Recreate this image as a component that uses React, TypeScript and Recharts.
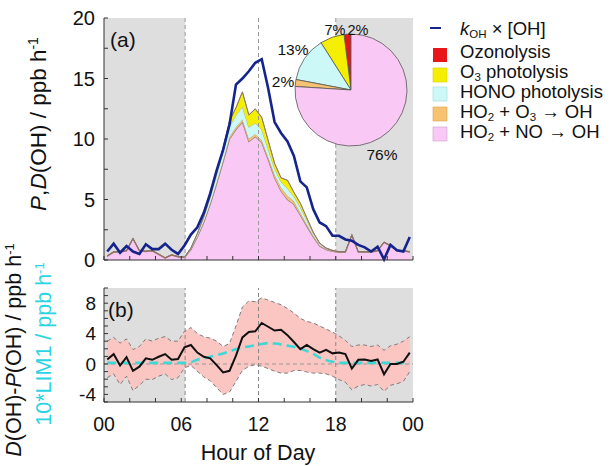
import React from 'react';
import { ComposedChart, Area, Line, XAxis, YAxis, ReferenceArea, ReferenceLine, PieChart, Pie, Cell } from 'recharts';

const FONT = '"Liberation Sans", Arial, sans-serif';

// half-hour bins, hour of day
const hours = [
  0.25, 0.75, 1.25, 1.75, 2.25, 2.75, 3.25, 3.75, 4.25, 4.75, 5.25, 5.75,
  6.25, 6.75, 7.25, 7.75, 8.25, 8.75, 9.25, 9.75, 10.25, 10.75, 11.25, 11.75,
  12.25, 12.75, 13.25, 13.75, 14.25, 14.75, 15.25, 15.75, 16.25, 16.75, 17.25, 17.75,
  18.25, 18.75, 19.25, 19.75, 20.25, 20.75, 21.25, 21.75, 22.25, 22.75, 23.25, 23.75,
];

// (a) kOH x [OH] (destruction)
const kOH = [
  0.7, 1.35, 0.6, 1.15, 0.7, 0.5, 1.3, 0.9, 0.9, 1.35, 0.85, 0.5,
  1.2, 2.1, 2.7, 3.9, 5.5, 7.4, 9.1, 11.2, 14.5, 15.0, 15.6, 16.3,
  16.6, 14.2, 11.4, 10.5, 9.8, 8.6, 6.5, 6.0, 4.2, 3.1, 2.8, 2.0,
  2.0, 1.7, 1.6, 1.25, 1.05, 0.7, 1.1, 0.05, 1.25, 0.8, 0.7, 1.9,
];

// (a) production terms, stacked bottom to top
const pHO2NO = [
  0.3, 0.65, 0.65, 0.75, 1.75, 0.75, 0.7, 0.75, 0.45, 0.15, 0.4, 0.25,
  0.2, 0.85, 1.9, 3.1, 4.6, 6.3, 8.1, 10.0, 10.8, 11.4, 9.8, 10.2,
  9.7, 8.3, 6.8, 5.7, 5.0, 4.6, 3.7, 2.8, 1.9, 1.15, 0.85, 0.7,
  0.65, 0.65, 2.05, 0.65, 0.65, 0.65, 0.75, 1.45, 1.15, 0.75, 0.75, 0.65,
];
const pHO2O3 = [
  0.01, 0.01, 0.01, 0.01, 0.01, 0.01, 0.01, 0.01, 0.01, 0.01, 0.01, 0.01,
  0.0, 0.03, 0.05, 0.08, 0.1, 0.12, 0.15, 0.18, 0.2, 0.22, 0.22, 0.22,
  0.22, 0.22, 0.25, 0.3, 0.3, 0.25, 0.2, 0.15, 0.1, 0.07, 0.05, 0.03,
  0.01, 0.01, 0.01, 0.01, 0.01, 0.01, 0.01, 0.01, 0.01, 0.01, 0.01, 0.01,
];
const pHONO = [
  0.01, 0.01, 0.01, 0.01, 0.01, 0.01, 0.01, 0.01, 0.01, 0.01, 0.01, 0.01,
  0.03, 0.1, 0.2, 0.35, 0.45, 0.6, 0.7, 0.85, 0.95, 1.05, 0.95, 0.9,
  0.85, 0.65, 0.5, 0.45, 0.6, 0.4, 0.45, 0.33, 0.2, 0.13, 0.07, 0.04,
  0.01, 0.01, 0.01, 0.01, 0.01, 0.01, 0.01, 0.01, 0.01, 0.01, 0.01, 0.01,
];
const pO3phot = [
  0, 0, 0, 0, 0, 0, 0, 0, 0, 0, 0, 0,
  0, 0, 0.03, 0.05, 0.13, 0.25, 0.32, 0.44, 0.62, 1.2, 1.0, 1.15,
  1.0, 0.7, 0.42, 0.33, 0.68, 0.33, 0.33, 0.2, 0.08, 0.03, 0.01, 0,
  0, 0, 0, 0, 0, 0, 0, 0, 0, 0, 0, 0,
];
const pOzon = [
  0.03, 0.03, 0.03, 0.03, 0.03, 0.03, 0.03, 0.03, 0.03, 0.03, 0.03, 0.03,
  0.02, 0.02, 0.02, 0.02, 0.02, 0.03, 0.03, 0.03, 0.03, 0.03, 0.03, 0.03,
  0.03, 0.03, 0.03, 0.02, 0.02, 0.02, 0.02, 0.02, 0.02, 0.02, 0.02, 0.03,
  0.03, 0.03, 0.03, 0.03, 0.03, 0.03, 0.03, 0.03, 0.03, 0.03, 0.03, 0.03,
];

// (b) D(OH)-P(OH), its uncertainty band, and 10*LIM1
const dMinusP = [
  0.6, 1.3, -0.2, 0.9, -0.9, -0.35, 0.75, 0.55, 0.95, 1.3, 0.55, 0.65,
  2.2, 2.5, 1.5, 0.95, 0.75, -0.15, -1.1, -0.9, 1.1, 3.5, 4.2, 4.3,
  5.4, 4.9, 4.4, 4.5, 3.8, 2.9, 1.95, 2.5, 1.95, 1.5, 1.85, 1.4,
  1.5, 1.3, -0.6, 0.55, 0.6, 0.4, 0.6, -1.35, 0.0, 0.0, 0.3, 1.5,
];
const dpUpper = [
  3.0, 3.5, 2.75, 3.3, 1.9, 2.3, 3.3, 3.0, 3.4, 3.6, 3.0, 3.0,
  4.3, 4.8, 4.0, 3.6, 3.4, 3.0, 2.3, 2.7, 5.0, 7.5, 8.3, 8.2,
  8.7, 8.4, 8.1, 7.8, 7.3, 6.7, 6.0, 5.6, 5.4, 5.0, 4.6, 4.2,
  3.7, 3.1, 2.3, 2.5, 2.5, 2.3, 2.5, 1.8, 2.4, 2.6, 3.0, 3.6,
];
const dpLower = [
  -1.8, -1.3, -2.7, -1.6, -3.5, -2.8, -2.0, -2.05, -1.6, -1.3, -2.05, -1.8,
  -0.5, -0.2, -0.95, -1.7, -2.2, -3.1, -4.0, -3.7, -2.3, -0.85, -0.3, -0.1,
  -0.3, -0.6, -0.95, -1.2, -1.2, -0.85, -0.85, -1.05, -1.2, -1.2, -1.3, -1.6,
  -2.05, -2.4, -3.4, -2.9, -2.7, -2.9, -2.7, -3.6, -2.8, -2.6, -2.3, -1.0,
];
const lim1x10 = [
  0.15, 0.15, 0.15, 0.15, 0.15, 0.15, 0.15, 0.15, 0.15, 0.15, 0.15, 0.15,
  0.15, 0.25, 0.57, 0.73, 0.95, 1.17, 1.38, 1.66, 1.93, 2.15, 2.31, 2.47,
  2.64, 2.75, 2.69, 2.58, 2.42, 2.26, 2.04, 1.71, 1.33, 0.84, 0.51, 0.29,
  0.15, 0.15, 0.15, 0.15, 0.15, 0.15, 0.15, 0.15, 0.15, 0.15, 0.15, 0.15,
];

// inset pie: share of P(OH)
const pieNames = ['Ozonolysis', 'O3 photolysis', 'HONO photolysis', 'HO2 + O3', 'HO2 + NO'];
const pieValues = [2, 7, 13, 2, 76];
const pieColors = ['#e8151b', '#f4ef00', '#cdf8f8', '#f7c272', '#f9c8f5'];

const hourTicks = [0, 2, 4, 6, 8, 10, 12, 14, 16, 18, 20, 22, 24];
const hourLabels: Record<number, string> = { 0: '00', 6: '06', 12: '12', 18: '18', 24: '00' };
const ticksA = [0, 2.5, 5, 7.5, 10, 12.5, 15, 17.5, 20];
const ticksB = [-5, -4, -3, -2, -1, 0, 1, 2, 3, 4, 5, 6, 7, 8, 9, 10];
const labelsB = [-4, 0, 4, 8];

const sunrise = 6.3;
const sunset = 18;
const NIGHT = '#dedede';
const AXIS = '#333';
const EDGE = '#8b7b6e';
const LEG = 18.5;
const SUB = 11.5;

const rowsA = hours.map((t, i) => ({
  t,
  kOH: kOH[i],
  ho2no: pHO2NO[i],
  ho2o3: pHO2O3[i],
  hono: pHONO[i],
  o3: pO3phot[i],
  ozon: pOzon[i],
}));

const rowsB = hours.map((t, i) => ({
  t,
  dp: dMinusP[i],
  upper: dpUpper[i],
  lower: dpLower[i],
  band: [dpLower[i], dpUpper[i]],
  lim: lim1x10[i],
}));

const pieData = pieNames.map((name, i) => ({ name, value: pieValues[i] }));

const tickFont = { fill: '#111', fontFamily: FONT };

export default function App() {
  return (
    <div style={{ position: 'absolute', left: 0, top: 0, width: 616, height: 466, background: '#fff', fontFamily: FONT }}>
      {/* Panel (a): production vs destruction */}
      <div style={{ position: 'absolute', left: 0, top: 0 }}>
        <ComposedChart width={440} height={275} data={rowsA} margin={{ top: 18, right: 27, bottom: 0, left: 0 }}>
          <ReferenceArea x1={0} x2={sunrise} fill={NIGHT} fillOpacity={1} stroke="none" />
          <ReferenceArea x1={sunset} x2={24} fill={NIGHT} fillOpacity={1} stroke="none" />
          <Area type="linear" dataKey="ho2no" stackId="p" fill="#f9c8f5" fillOpacity={1} stroke={EDGE} strokeWidth={1.2} isAnimationActive={false} />
          <Area type="linear" dataKey="ho2o3" stackId="p" fill="#f7c272" fillOpacity={1} stroke={EDGE} strokeWidth={0.6} isAnimationActive={false} />
          <Area type="linear" dataKey="hono" stackId="p" fill="#cdf8f8" fillOpacity={1} stroke={EDGE} strokeWidth={0.6} isAnimationActive={false} />
          <Area type="linear" dataKey="o3" stackId="p" fill="#f4ef00" fillOpacity={1} stroke={EDGE} strokeWidth={0.6} isAnimationActive={false} />
          <Area type="linear" dataKey="ozon" stackId="p" fill="#e8151b" fillOpacity={1} stroke={EDGE} strokeWidth={1} isAnimationActive={false} />
          <ReferenceLine x={sunrise} stroke="#9a9a9a" strokeDasharray="4 3" />
          <ReferenceLine x={12} stroke="#9a9a9a" strokeDasharray="4 3" />
          <ReferenceLine x={sunset} stroke="#9a9a9a" strokeDasharray="4 3" />
          <Line type="linear" dataKey="kOH" stroke="#14248c" strokeWidth={2.6} dot={false} isAnimationActive={false} />
          <XAxis dataKey="t" type="number" domain={[0, 24]} ticks={hourTicks} interval={0} tickFormatter={() => ''} tickSize={-4} height={15} stroke={AXIS} />
          <XAxis xAxisId="top" orientation="top" type="number" domain={[0, 24]} ticks={hourTicks} interval={0} tick={false} tickSize={-4} height={0} stroke={AXIS} />
          <YAxis type="number" domain={[0, 20]} ticks={ticksA} interval={0} tickFormatter={(v) => (v % 5 === 0 ? String(v) : '')} tickSize={-4} tickMargin={13} width={104} stroke={AXIS} tick={{ ...tickFont, fontSize: 20 }} />
          <YAxis yAxisId="right" orientation="right" type="number" domain={[0, 20]} ticks={ticksA} interval={0} tick={false} tickSize={-4} width={0} stroke={AXIS} />
        </ComposedChart>
      </div>

      {/* Panel (b): D(OH) - P(OH) */}
      <div style={{ position: 'absolute', left: 0, top: 270 }}>
        <ComposedChart width={440} height={200} data={rowsB} margin={{ top: 18, right: 27, bottom: 0, left: 0 }}>
          <ReferenceArea x1={0} x2={sunrise} fill={NIGHT} fillOpacity={1} stroke="none" />
          <ReferenceArea x1={sunset} x2={24} fill={NIGHT} fillOpacity={1} stroke="none" />
          <Area type="linear" dataKey="band" fill="#fbc5c2" fillOpacity={1} stroke="none" isAnimationActive={false} />
          <ReferenceLine y={0} stroke="#999" strokeDasharray="4 3" />
          <ReferenceLine x={sunrise} stroke="#888" strokeDasharray="4 3" />
          <ReferenceLine x={12} stroke="#888" strokeDasharray="4 3" />
          <ReferenceLine x={sunset} stroke="#888" strokeDasharray="4 3" />
          <Line type="linear" dataKey="upper" stroke="#7d7d7d" strokeWidth={1} strokeDasharray="4 3" dot={false} isAnimationActive={false} />
          <Line type="linear" dataKey="lower" stroke="#7d7d7d" strokeWidth={1} strokeDasharray="4 3" dot={false} isAnimationActive={false} />
          <Line type="monotone" dataKey="lim" stroke="#3ed8d6" strokeWidth={2.6} strokeDasharray="9 5" dot={false} isAnimationActive={false} />
          <Line type="linear" dataKey="dp" stroke="#111" strokeWidth={2} dot={false} isAnimationActive={false} />
          <XAxis dataKey="t" type="number" domain={[0, 24]} ticks={hourTicks} interval={0} tickFormatter={(v) => hourLabels[v] ?? ''} tickSize={-4} tickMargin={19} height={68} stroke={AXIS} tick={{ ...tickFont, fontSize: 19.5 }} />
          <XAxis xAxisId="top" orientation="top" type="number" domain={[0, 24]} ticks={hourTicks} interval={0} tick={false} tickSize={-4} height={0} stroke={AXIS} />
          <YAxis type="number" domain={[-5, 10]} ticks={ticksB} interval={0} tickFormatter={(v) => (labelsB.includes(Number(v)) ? String(v) : '')} tickSize={-4} tickMargin={12} width={104} stroke={AXIS} tick={{ ...tickFont, fontSize: 19 }} />
          <YAxis yAxisId="right" orientation="right" type="number" domain={[-5, 10]} ticks={ticksB} interval={0} tick={false} tickSize={-4} width={0} stroke={AXIS} />
        </ComposedChart>
      </div>

      {/* inset pie */}
      <div style={{ position: 'absolute', left: 286, top: 25 }}>
        <PieChart width={130} height={130} margin={{ top: 0, right: 0, bottom: 0, left: 0 }}>
          <Pie data={pieData} dataKey="value" nameKey="name" cx="50%" cy="50%" outerRadius={56} startAngle={90} endAngle={450} stroke="#555" strokeWidth={0.8} isAnimationActive={false}>
            {pieData.map((d, i) => (
              <Cell key={d.name} fill={pieColors[i]} />
            ))}
          </Pie>
        </PieChart>
      </div>

      {/* text layer */}
      <svg width={616} height={466} style={{ position: 'absolute', left: 0, top: 0, pointerEvents: 'none' }} fontFamily={FONT} fill="#111">
        <text x={110} y={47} fontSize={21}>(a)</text>
        <text x={108} y={317} fontSize={21}>(b)</text>

        <text transform="translate(46,124) rotate(-90)" textAnchor="middle" fontSize={22.5}>
          <tspan fontStyle="italic">P</tspan>,<tspan fontStyle="italic">D</tspan>(OH) / ppb h<tspan dy={-8} fontSize={14}>-1</tspan>
        </text>
        <text transform="translate(21,350) rotate(-90)" textAnchor="middle" fontSize={21.5}>
          <tspan fontStyle="italic">D</tspan>(OH)-<tspan fontStyle="italic">P</tspan>(OH) / ppb h<tspan dy={-7} fontSize={13}>-1</tspan>
        </text>
        <text transform="translate(51,344) rotate(-90)" textAnchor="middle" fontSize={21.5} fill="#2ad4e4">
          10*LIM1 / ppb h<tspan dy={-7} fontSize={13}>-1</tspan>
        </text>
        <text x={258} y={460} textAnchor="middle" fontSize={21.5}>Hour of Day</text>

        {/* pie labels */}
        <text x={335} y={35} textAnchor="middle" fontSize={14.5}>7%</text>
        <text x={358} y={35} textAnchor="middle" fontSize={14.5}>2%</text>
        <text x={293} y={55} textAnchor="middle" fontSize={15.5}>13%</text>
        <text x={283} y={87} textAnchor="middle" fontSize={15.5}>2%</text>
        <text x={382} y={160} textAnchor="middle" fontSize={15.5}>76%</text>

        {/* legend */}
        <line x1={430} x2={441} y1={28} y2={28} stroke="#14248c" strokeWidth={2} />
        <text x={460} y={35} fontSize={LEG}>
          <tspan fontStyle="italic">k</tspan><tspan dy={3} fontSize={SUB}>OH</tspan><tspan dy={-3}> × [OH]</tspan>
        </text>
        <rect x={433} y={48} width={14} height={14} fill="#e8151b" />
        <text x={460} y={57.5} fontSize={LEG}>Ozonolysis</text>
        <rect x={433} y={68} width={14} height={14} fill="#f4ef00" stroke="#d8d200" strokeWidth={0.6} />
        <text x={460} y={77.5} fontSize={LEG}>
          O<tspan dy={3} fontSize={SUB}>3</tspan><tspan dy={-3}> photolysis</tspan>
        </text>
        <rect x={433} y={87} width={14} height={14} fill="#cdf8f8" stroke="#9ed8d8" strokeWidth={0.6} />
        <text x={460} y={98} fontSize={LEG}>HONO photolysis</text>
        <rect x={433} y={107} width={14} height={14} fill="#f7c272" stroke="#d9a455" strokeWidth={0.6} />
        <text x={460} y={117.5} fontSize={LEG}>
          HO<tspan dy={3} fontSize={SUB}>2</tspan><tspan dy={-3}> + O</tspan><tspan dy={3} fontSize={SUB}>3</tspan><tspan dy={-3}> → OH</tspan>
        </text>
        <rect x={433} y={127} width={14} height={14} fill="#f9c8f5" stroke="#c9a0c6" strokeWidth={0.6} />
        <text x={460} y={138} fontSize={LEG}>
          HO<tspan dy={3} fontSize={SUB}>2</tspan><tspan dy={-3}> + NO → OH</tspan>
        </text>
      </svg>
    </div>
  );
}
